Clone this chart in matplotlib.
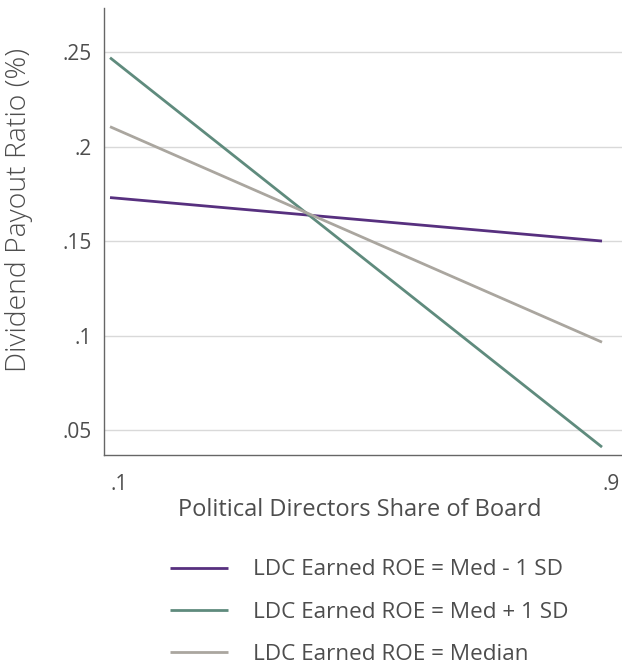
import matplotlib.pyplot as plt

# datos
x = [0.1, 0.9]
med_menos_sd = [0.173, 0.150]
med_mas_sd = [0.247, 0.041]
mediana = [0.2105, 0.0965]

series = ['LDC Earned ROE = Med - 1 SD', 'LDC Earned ROE = Med + 1 SD', 'LDC Earned ROE = Median']
colores = ['#57307f', '#5f8b7d', '#aaa69f']
yticks = [0.05, 0.1, 0.15, 0.2, 0.25]
ytick_labels = ['.05', '.1', '.15', '.2', '.25']
xticks = [0.1, 0.9]
xtick_labels = ['.1', '.9']

plt.rcParams['font.family'] = ['Open Sans', 'DejaVu Sans']
texto = '#4d4d4d'

fig = plt.figure(figsize=(6.22, 6.66), dpi=100)
ax = fig.add_axes([0.1672, 0.3168, 0.8328, 0.6712])

lineas = []
for vals, nombre, c in zip([med_menos_sd, med_mas_sd, mediana], series, colores):
    l, = ax.plot(x, vals, color=c, lw=2, label=nombre, solid_capstyle='butt')
    lineas.append(l)

ax.set_xlim(0.0902, 0.9325)
ax.set_ylim(0.0368, 0.2733)
ax.set_yticks(yticks)
ax.set_yticklabels(ytick_labels)
ax.set_xticks(xticks)
ax.set_xticklabels(xtick_labels, ha='left')
ax.tick_params(length=0, labelsize=15, colors=texto)
ax.tick_params(axis='y', pad=8.5)
ax.tick_params(axis='x', pad=13.5)
ax.grid(axis='y', color='#d9d9d9', lw=1)
ax.set_axisbelow(True)
for s in ['top', 'right']:
    ax.spines[s].set_visible(False)
for s in ['left', 'bottom']:
    ax.spines[s].set_color('#666666')
    ax.spines[s].set_linewidth(1)

ax.set_ylabel('Dividend Payout Ratio (%)', fontsize=20.4, color=texto, fontweight='light')
ax.yaxis.set_label_coords(-0.137, 0.548)
ax.set_xlabel('Political Directors Share of Board', fontsize=17, color=texto)
ax.xaxis.set_label_coords(0.494, -0.097)

fig.legend(handles=lineas, loc='upper left', bbox_to_anchor=(0.273, 0.160),
           frameon=False, fontsize=16.2, handlelength=2.6, handletextpad=1.1,
           labelspacing=0.94, labelcolor=texto, borderaxespad=0, borderpad=0)

plt.savefig('out.png', dpi=100)
